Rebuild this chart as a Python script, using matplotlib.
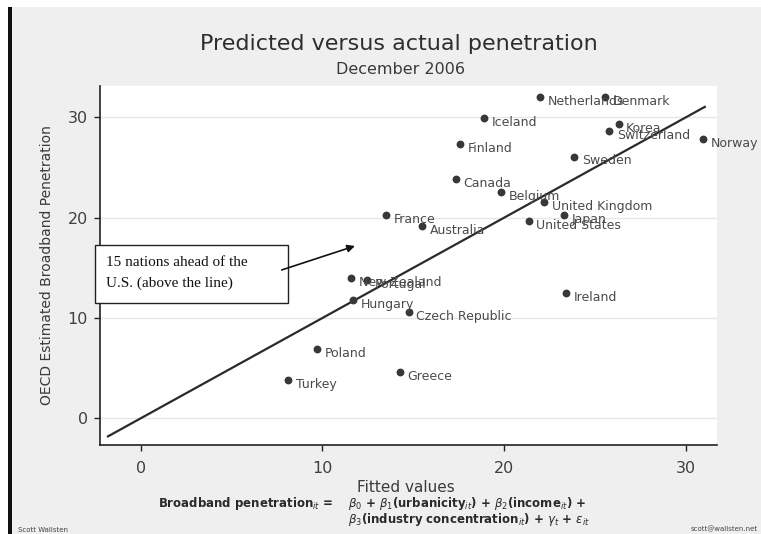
import matplotlib.pyplot as plt
from matplotlib.patches import Rectangle

# OECD broadband penetration, December 2006: model fit vs. actual
countries = ["Netherlands", "Denmark", "Iceland", "Korea", "Switzerland", "Norway",
             "Finland", "Sweden", "Canada", "Belgium", "United Kingdom", "Japan",
             "United States", "France", "Australia", "New Zealand", "Portugal",
             "Hungary", "Czech Republic", "Poland", "Greece", "Turkey", "Ireland"]
fitted = [22.0, 25.55, 18.9, 26.3, 25.8, 30.95,
          17.6, 23.85, 17.35, 19.85, 22.2, 23.3,
          21.35, 13.5, 15.5, 11.6, 12.45,
          11.7, 14.75, 9.7, 14.25, 8.1, 23.4]
actual = [32.0, 32.0, 29.9, 29.3, 28.6, 27.8,
          27.3, 26.1, 23.9, 22.6, 21.6, 20.3,
          19.7, 20.3, 19.2, 14.0, 13.8,
          11.8, 10.6, 6.9, 4.6, 3.8, 12.5]
fit_line_x = [-1.8, 31.05]

x_ticks = [0, 10, 20, 30]
y_ticks = [0, 10, 20, 30]

W, H = 761, 534


def fx(px):
    return px / W


def fy(py):
    return 1 - py / H


fig = plt.figure(figsize=(W / 100, H / 100), dpi=100)
fig.patch.set_facecolor("white")

# slide background and the black bar on the left
fig.patches.append(Rectangle((fx(12), 0), 1 - fx(12), fy(7), transform=fig.transFigure,
                             facecolor="#efefef", edgecolor="none", zorder=-10))
fig.patches.append(Rectangle((fx(8), 0), fx(4), fy(7), transform=fig.transFigure,
                             facecolor="#111111", edgecolor="none", zorder=-10))

ax = fig.add_axes([fx(100), fy(445), fx(717) - fx(100), fy(86) - fy(445)])
ax.set_facecolor("white")
ax.set_xlim(-2.24, 31.72)
ax.set_ylim(-2.66, 33.13)

for s in ["top", "right"]:
    ax.spines[s].set_visible(False)
for s in ["left", "bottom"]:
    ax.spines[s].set_color("#222222")
    ax.spines[s].set_linewidth(1.2)

ax.set_xticks(x_ticks)
ax.set_yticks(y_ticks)
ax.tick_params(axis="both", direction="out", length=4.3, width=1.0, color="#222222",
               labelsize=11.5, labelcolor="#404040")
ax.tick_params(axis="x", pad=7)
ax.tick_params(axis="y", pad=4.3)
ax.yaxis.grid(True, color="#e6e6e6", linewidth=1.0)
ax.set_axisbelow(True)

ax.plot(fit_line_x, fit_line_x, color="#2a2a2a", linewidth=1.6, zorder=2)
ax.scatter(fitted, actual, s=32, color="#383838", zorder=3, linewidths=0)

for name, xv, yv in zip(countries, fitted, actual):
    ax.annotate(name, (xv, yv), xytext=(5.5, -3.2), textcoords="offset points",
                ha="left", va="center", fontsize=9, color="#4a4a4a", zorder=4)

ax.set_ylabel("OECD Estimated Broadband Penetration", fontsize=10, color="#3a3a3a")
ax.yaxis.set_label_coords((54 - 100) / 617, 0.5)

fig.text(fx(406), fy(488), "Fitted values", ha="center", va="center",
         fontsize=11, color="#3a3a3a")

fig.text(fx(399), fy(44), "Predicted versus actual penetration", ha="center",
         va="center", fontsize=16, color="#2e2e2e")
fig.text(fx(401), fy(70), "December 2006", ha="center", va="center",
         fontsize=11.5, color="#3a3a3a")

# regression specification under the axis
fig.text(fx(158), fy(503), r"Broadband penetration$_{it}$ =", ha="left", va="center",
         fontsize=8.5, fontweight="bold", color="#2a2a2a")
fig.text(fx(348), fy(503),
         r"$\beta_0$ + $\beta_1$(urbanicity$_{it}$) + $\beta_2$(income$_{it}$) +",
         ha="left", va="center", fontsize=8.5, fontweight="bold", color="#2a2a2a")
fig.text(fx(348), fy(519),
         r"$\beta_3$(industry concentration$_{it}$) + $\gamma_t$ + $\varepsilon_{it}$",
         ha="left", va="center", fontsize=8.5, fontweight="bold", color="#2a2a2a")

fig.text(fx(18), fy(530), "Scott Wallsten", ha="left", va="center", fontsize=5,
         color="#444444")
fig.text(fx(758), fy(529), "scott@wallsten.net", ha="right", va="center", fontsize=5,
         color="#444444")

# callout box with arrow, drawn on top of the axes
ax.add_patch(Rectangle((fx(95), fy(303)), fx(288) - fx(95), fy(245) - fy(303),
                       transform=fig.transFigure, facecolor="white",
                       edgecolor="#222222", linewidth=1.0, zorder=5, clip_on=False))
callout = ["15 nations ahead of the", "U.S. (above the line)"]
for line, base in zip(callout, [266, 287]):
    ax.text(fx(106), fy(base), line, transform=fig.transFigure, ha="left",
            va="baseline", fontsize=11, family="Liberation Serif", color="#111111",
            zorder=6, clip_on=False)
ax.annotate("", xy=(11.79, 17.18), xytext=(7.76, 14.79),
            arrowprops=dict(arrowstyle="-|>", color="#111111", lw=1.2,
                            mutation_scale=11, shrinkA=0, shrinkB=0), zorder=7)

fig.savefig("out.png", dpi=100)
